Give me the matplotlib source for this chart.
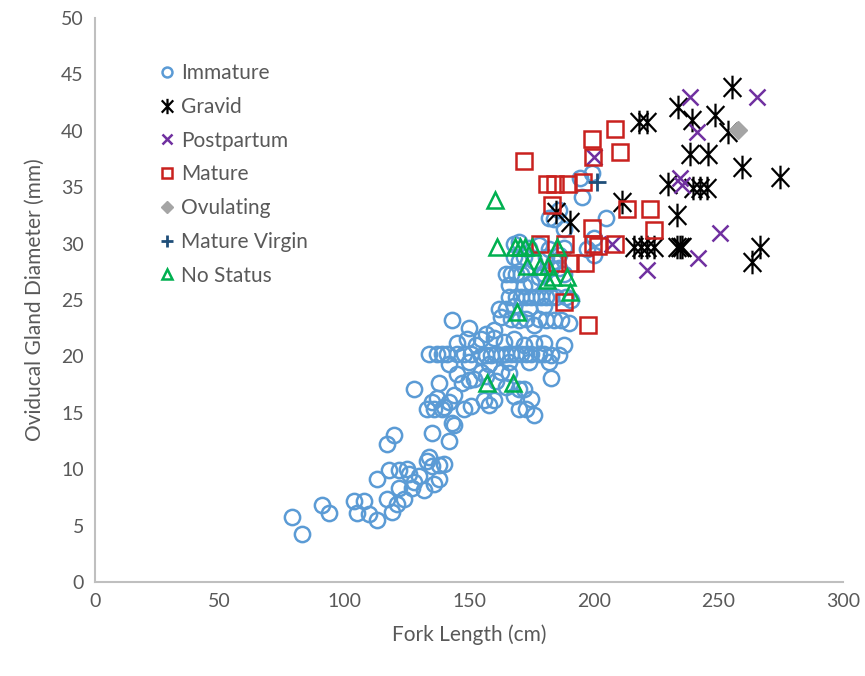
import matplotlib
matplotlib.use("Agg")
import matplotlib.pyplot as plt
from matplotlib.path import Path

plt.rcParams['font.family'] = ['Lato', 'DejaVu Sans']

# fork length (cm), oviducal gland diameter (mm) by maturity status
immature_x = [79, 83, 91, 94, 104, 105, 108, 110, 113, 117, 119, 121, 124, 122,
              113, 118, 122, 125, 127, 130, 132, 133, 134, 136, 138, 138, 140, 128, 126, 135,
              117, 120, 142, 135,
              128, 133, 135, 136, 137, 138, 139, 140, 142, 143, 144, 144, 145, 147, 148, 150,
              151, 152, 155, 156, 158, 160, 163, 165, 168, 170, 172, 173, 175, 176, 170, 166,
              161, 157, 183,
              134, 137, 139, 141, 145, 148, 151, 153, 155, 157, 159, 161, 163, 165, 167, 169,
              171, 173, 175, 178, 180, 183, 186, 145, 149, 155, 160, 164, 168, 172, 176, 180,
              188, 142, 150, 158, 166, 174, 182,
              143, 150, 157, 160, 163, 165, 167, 170, 173, 176, 178, 181, 184, 187, 190, 162,
              168, 174, 180,
              166, 169, 171, 173, 175, 177, 179, 181, 183, 185, 189, 191,
              165, 167, 169, 171, 175, 178, 180, 183, 186, 188, 166, 172,
              168, 170, 172, 176, 181, 184, 186, 197.5, 200, 168, 170, 174, 178, 182, 188,
              182, 184, 186, 195.5, 194.5, 199.5, 205, 188, 200]
immature_y = [5.8, 4.3, 6.8, 6.1, 7.2, 6.1, 7.2, 6.0, 5.5, 7.4, 6.2, 6.9, 7.4, 8.3,
              9.1, 9.9, 9.9, 10.0, 8.3, 9.4, 8.2, 10.7, 11.1, 8.7, 9.1, 10.4, 10.5, 8.9, 9.6, 10.3,
              12.2, 13.0, 12.5, 13.2,
              17.1, 15.3, 16.0, 15.3, 16.3, 17.6, 15.3, 15.5, 16.0, 14.1, 13.9, 16.6, 18.4, 17.6,
              15.3, 17.9, 15.6, 18.0, 18.6, 16.1, 15.7, 16.1, 18.6, 17.3, 16.5, 17.1, 17.1, 15.3,
              16.2, 14.8, 15.3, 18.5, 17.8, 18.3, 18.1,
              20.2, 20.2, 20.2, 20.2, 20.2, 20.2, 20.2, 21.0, 20.0, 20.1, 20.1, 20.2, 20.1, 20.2,
              20.2, 20.2, 20.2, 20.2, 20.2, 20.2, 20.2, 20.1, 20.1, 21.2, 21.5, 21.5, 21.6, 21.3,
              21.5, 21.0, 21.2, 21.2, 21.0, 19.3, 19.5, 19.3, 19.5, 19.5, 19.5,
              23.2, 22.5, 22.0, 22.3, 23.5, 24.2, 23.3, 23.2, 23.3, 22.8, 23.3, 23.2, 23.2, 23.2,
              23.0, 24.2, 24.5, 24.3, 24.5,
              25.3, 25.3, 25.3, 25.3, 25.3, 25.3, 25.3, 25.3, 25.3, 25.3, 25.3, 25.0,
              27.3, 27.3, 27.3, 27.3, 26.5, 27.0, 27.3, 27.8, 27.8, 27.3, 26.3, 26.2,
              28.8, 28.5, 28.8, 28.5, 28.8, 28.5, 29.0, 29.5, 29.0, 30.0, 30.1, 29.6, 29.9, 29.5,
              29.6,
              32.3, 32.2, 33.0, 34.1, 35.8, 36.3, 32.3, 31.3, 30.5]

gravid_x = [185, 190.5, 211.3, 218, 221.5, 216, 219, 221.5, 224, 233.5, 234.7, 235.5,
            233.3, 230, 240, 242.6, 245.3, 234, 239.3, 248.7, 255.4, 254, 238.7, 246,
            259.4, 274.8, 266.7, 263.4]
gravid_y = [32.8, 31.9, 33.7, 40.8, 40.8, 29.7, 29.7, 29.7, 29.7, 29.7, 29.7, 29.7,
            32.5, 35.3, 34.9, 34.9, 34.9, 42.1, 41.0, 41.4, 43.9, 39.9, 37.9, 37.9,
            36.8, 35.9, 29.7, 28.4]

postpartum_x = [238.7, 265.5, 241.3, 200, 234.7, 235.5, 250.7, 242, 221.3, 207.5]
postpartum_y = [43.0, 43.0, 39.9, 37.7, 35.8, 35.2, 30.9, 28.7, 27.7, 30.0]

mature_x = [172.2, 181.2, 184.5, 189.8, 195.9, 199.2, 208.6, 210.6, 199.9, 183.2, 213.2,
            222.6, 224, 199.2, 178.5, 188.5, 199.9, 201.9, 208.6, 185.2, 190.5, 196.6,
            187.9, 197.9]
mature_y = [37.3, 35.3, 35.3, 35.3, 35.5, 39.3, 40.2, 38.1, 37.7, 33.4, 33.1,
            33.1, 31.2, 31.4, 30.0, 30.0, 30.0, 29.8, 30.0, 28.3, 28.3, 28.3,
            24.8, 22.8]

ovulating_x = [258]
ovulating_y = [40.1]

virgin_x = [201.2]
virgin_y = [35.5]

nostatus_x = [160.4, 161.1, 168.5, 170.5, 172.5, 175.2, 185.2, 173.1, 178.5, 181.8,
              181.2, 183.5, 189.2, 190.5, 169.1, 157.1, 167.8]
nostatus_y = [33.9, 29.7, 29.7, 29.7, 29.7, 29.7, 29.7, 28.0, 28.0, 28.0,
              26.8, 27.0, 27.0, 25.7, 23.9, 17.6, 17.6]

# six-armed star: vertical stroke plus a wide X
star = Path([(0, -1), (0, 1), (-0.75, -0.8), (0.75, 0.8), (-0.75, 0.8), (0.75, -0.8)],
            [Path.MOVETO, Path.LINETO, Path.MOVETO, Path.LINETO, Path.MOVETO, Path.LINETO])

fig = plt.figure(figsize=(8.65, 6.76), dpi=100)
ax = fig.add_axes([0.1098, 0.139, 0.8648, 0.8344])

ax.plot(immature_x, immature_y, 'o', ls='none', ms=11, mfc='none', mec='#5B9BD5',
        mew=1.8, label='Immature')
ax.plot(gravid_x, gravid_y, ls='none', marker=star, ms=17, mfc='none', mec='black',
        mew=1.6, label='Gravid')
ax.plot(postpartum_x, postpartum_y, 'x', ls='none', ms=11, mec='#7030A0', mew=1.8,
        label='Postpartum')
ax.plot(mature_x, mature_y, 's', ls='none', ms=12, mfc='none', mec='#C9211E', mew=1.8,
        label='Mature')
ax.plot(ovulating_x, ovulating_y, 'D', ls='none', ms=9, mfc='#A5A5A5', mec='#A5A5A5',
        label='Ovulating')
ax.plot(virgin_x, virgin_y, '+', ls='none', ms=13, mec='#1F4E79', mew=2,
        label='Mature Virgin')
ax.plot(nostatus_x, nostatus_y, '^', ls='none', ms=12, mfc='none', mec='#00B050', mew=1.8,
        label='No Status')

ax.set_xlim(0, 300)
ax.set_ylim(0, 50)
ax.set_xticks(range(0, 301, 50))
ax.set_yticks(range(0, 51, 5))
ax.tick_params(length=0, labelsize=14, labelcolor='#595959', pad=8)
for s in ['top', 'right']:
    ax.spines[s].set_visible(False)
for s in ['left', 'bottom']:
    ax.spines[s].set_color('#BFBFBF')
    ax.spines[s].set_linewidth(1.5)

ax.set_xlabel('Fork Length (cm)', fontsize=15, color='#595959', labelpad=10)
ax.set_ylabel('Oviducal Gland Diameter (mm)', fontsize=15, color='#595959', labelpad=12)

leg = ax.legend(loc='upper left', bbox_to_anchor=(0.085, 0.92), frameon=False, fontsize=15,
                markerscale=0.65, handlelength=0.8, handletextpad=0.3, labelspacing=0.66,
                borderaxespad=0, borderpad=0)
for t in leg.get_texts():
    t.set_color('#595959')

fig.savefig('out.png', dpi=100)
